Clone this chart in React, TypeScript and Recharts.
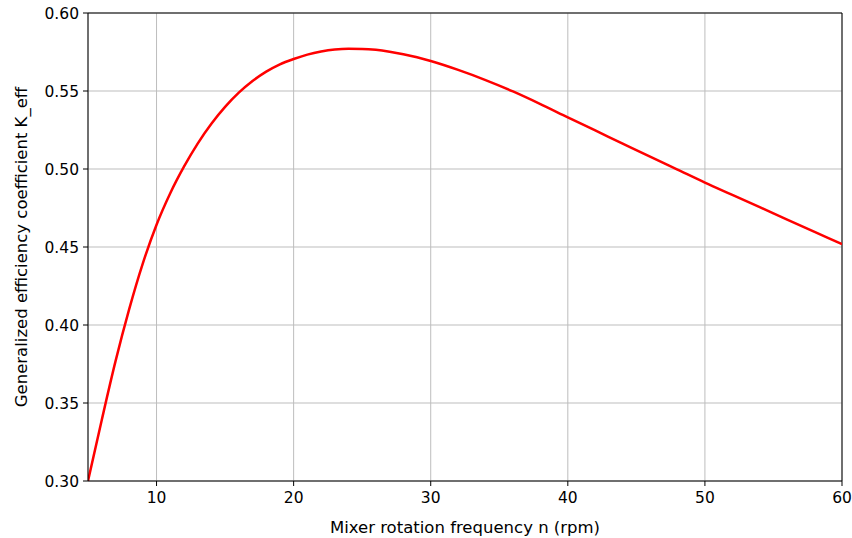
import { LineChart, Line, XAxis, YAxis, CartesianGrid, ReferenceLine } from 'recharts'

// rotation frequency n (rpm)
const rpm = [
  5, 6, 7, 8, 9, 10, 11, 12, 13, 14, 15, 16, 17, 18, 19, 20, 21, 22, 23, 24, 25, 26, 27, 28, 29, 30,
  32, 34, 36, 38, 40, 42, 44, 46, 48, 50, 52, 54, 56, 58, 60,
]
// K_eff
const kEff = [
  0.3, 0.339, 0.3765, 0.41, 0.4395, 0.4643, 0.4845, 0.5015, 0.5163, 0.529, 0.5398, 0.5489, 0.5564,
  0.5624, 0.5671, 0.5705, 0.5733, 0.5753, 0.5766, 0.5771, 0.577, 0.5764, 0.5752, 0.5736, 0.5716,
  0.5692, 0.5635, 0.557, 0.5497, 0.5416, 0.5331, 0.5247, 0.5163, 0.5079, 0.4996, 0.4913, 0.4834,
  0.4755, 0.4676, 0.4597, 0.4518,
]
const xTicks = [10, 20, 30, 40, 50, 60]
const yTicks = [0.3, 0.35, 0.4, 0.45, 0.5, 0.55, 0.6]

const data = rpm.map((n, i) => ({ n, k: kEff[i] }))

const font = 'DejaVu Sans, sans-serif'
const tickStyle = { fill: '#000', fontSize: 15.5, fontFamily: font }
const labelStyle = { fill: '#000', fontSize: 16.5, fontFamily: font }

export default function App() {
  return (
    <div style={{ position: 'absolute', left: 0, top: 0, background: '#fff' }}>
      <LineChart width={852} height={538} data={data} margin={{ top: 13, right: 10, bottom: 0, left: 0 }}>
        <CartesianGrid stroke="#bdbdbd" strokeWidth={1} />
        <XAxis
          dataKey="n"
          type="number"
          domain={[5, 60]}
          ticks={xTicks}
          allowDataOverflow
          height={57}
          stroke="#000"
          tickSize={5}
          tickMargin={6}
          tick={tickStyle}
          label={{
            value: 'Mixer rotation frequency n (rpm)',
            position: 'insideBottom',
            offset: 5,
            style: labelStyle,
          }}
        />
        <YAxis
          type="number"
          domain={[0.3, 0.6]}
          ticks={yTicks}
          allowDataOverflow
          width={88}
          stroke="#000"
          tickSize={5}
          tickMargin={4}
          tick={tickStyle}
          tickFormatter={(v: number) => v.toFixed(2)}
          label={{
            value: 'Generalized efficiency coefficient K_eff',
            angle: -90,
            position: 'insideLeft',
            offset: 0,
            dx: 21,
            style: { ...labelStyle, textAnchor: 'middle' },
          }}
        />
        <ReferenceLine y={0.6} stroke="#000" strokeWidth={1} />
        <ReferenceLine x={60} stroke="#000" strokeWidth={1} />
        <Line
          type="monotone"
          dataKey="k"
          stroke="#ff0000"
          strokeWidth={2.5}
          dot={false}
          activeDot={false}
          isAnimationActive={false}
        />
      </LineChart>
    </div>
  )
}
